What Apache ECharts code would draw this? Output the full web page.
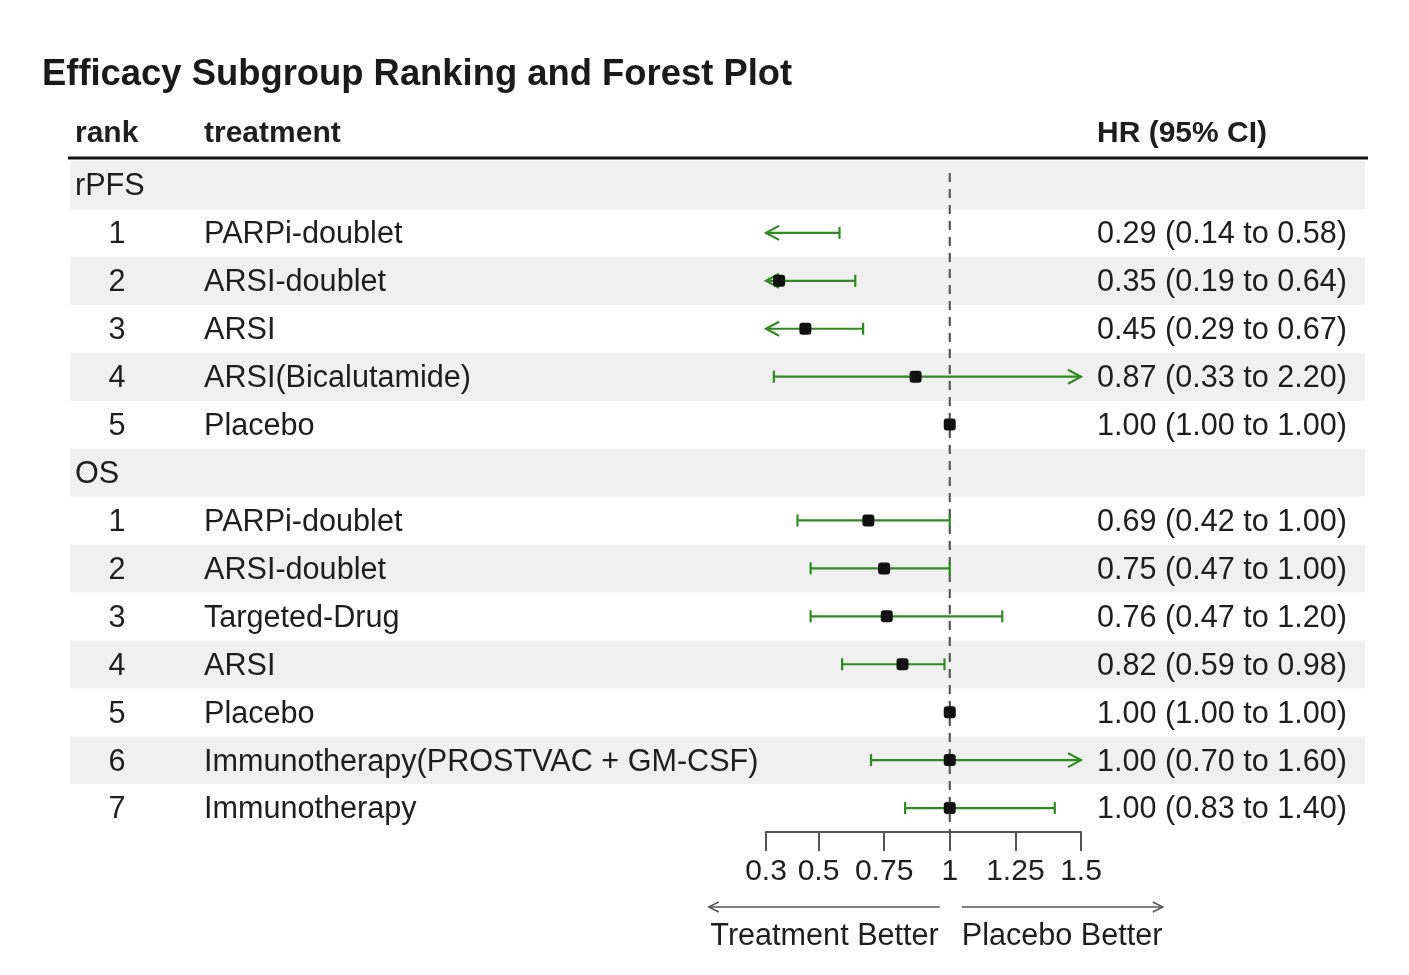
<!DOCTYPE html>
<html><head><meta charset="utf-8">
<script src="https://cdn.jsdelivr.net/npm/echarts@6/dist/echarts.min.js"></script>
<style>html,body{margin:0;padding:0;background:#fff}#c{width:1409px;height:975px}</style>
</head><body><div id="c"></div>
<script>
// ---- data ----
const groupNames = ['rPFS', 'OS'];
const rpfsTreatments = ['PARPi-doublet', 'ARSI-doublet', 'ARSI', 'ARSI(Bicalutamide)', 'Placebo'];
const rpfsHR    = [0.29, 0.35, 0.45, 0.87, 1.00];
const rpfsLower = [0.14, 0.19, 0.29, 0.33, 1.00];
const rpfsUpper = [0.58, 0.64, 0.67, 2.20, 1.00];
const osTreatments = ['PARPi-doublet', 'ARSI-doublet', 'Targeted-Drug', 'ARSI', 'Placebo', 'Immunotherapy(PROSTVAC + GM-CSF)', 'Immunotherapy'];
const osHR    = [0.69, 0.75, 0.76, 0.82, 1.00, 1.00, 1.00];
const osLower = [0.42, 0.47, 0.47, 0.59, 1.00, 0.70, 0.83];
const osUpper = [1.00, 1.00, 1.20, 0.98, 1.00, 1.60, 1.40];
const xTicks = [0.3, 0.5, 0.75, 1, 1.25, 1.5];
const xMin = 0.3, xMax = 1.5, refValue = 1;
const headers = ['rank', 'treatment', 'HR (95% CI)'];
const directionLabels = ['Treatment Better', 'Placebo Better'];
const titleText = 'Efficacy Subgroup Ranking and Forest Plot';

// ---- build rows ----
const rows = [];
function addGroup(name, tr, hr, lo, hi) {
  rows.push({ kind: 'group', name: name });
  tr.forEach((t, i) => rows.push({ kind: 'item', rank: String(i + 1), name: t, hr: hr[i], lo: lo[i], hi: hi[i] }));
}
addGroup(groupNames[0], rpfsTreatments, rpfsHR, rpfsLower, rpfsUpper);
addGroup(groupNames[1], osTreatments, osHR, osLower, osUpper);
const yCats = rows.map((r, i) => String(i));

const FONT = '"Liberation Sans", Arial, Helvetica, sans-serif';
const TXT = '#1e1e1e';
const GREEN = '#2f8a22';

// ---- layout constants ----
const COL_GROUP = 75, COL_RANK = 117, COL_TREAT = 204, COL_HR = 1097;
const STRIPE_L = 70, STRIPE_R = 1365;
const TEXT_DY = 2;

const chart = echarts.init(document.getElementById('c'), null, { renderer: 'canvas' });

const stripeSeries = {
  type: 'custom', z: 1, silent: true,
  data: rows.map((r, i) => [i, xMin]),
  encode: { x: 1, y: 0 },
  renderItem: function (params, api) {
    const i = api.value(0);
    if (i % 2 !== 0) return null;
    const c = api.coord([xMin, i]);
    const h = api.size([0, 1])[1];
    return { type: 'rect', shape: { x: STRIPE_L, y: c[1] - h / 2, width: STRIPE_R - STRIPE_L, height: h }, style: { fill: '#f0f0f0' } };
  }
};

const refLineSeries = {
  type: 'custom', z: 2, silent: true,
  data: [[0, refValue]],
  encode: { x: 1, y: 0 },
  renderItem: function (params, api) {
    const cs = params.coordSys;
    const x = api.coord([refValue, 0])[0];
    return { type: 'line', shape: { x1: x, y1: cs.y + 12, x2: x, y2: cs.y + cs.height }, style: { stroke: '#4a4a4a', lineWidth: 2, lineDash: [9, 7] } };
  }
};

const textSeries = {
  type: 'custom', z: 3, silent: true,
  data: rows.map((r, i) => [i, xMin]),
  encode: { x: 1, y: 0 },
  renderItem: function (params, api) {
    const i = api.value(0);
    const r = rows[i];
    const y = api.coord([xMin, i])[1] + TEXT_DY;
    const font = '30.6px ' + FONT;
    const mk = (text, x, align) => ({ type: 'text', style: { text: text, x: x, y: y, font: font, fill: TXT, align: align, verticalAlign: 'middle' } });
    if (r.kind === 'group') return { type: 'group', children: [mk(r.name, COL_GROUP, 'left')] };
    const hrTxt = r.hr.toFixed(2) + ' (' + r.lo.toFixed(2) + ' to ' + r.hi.toFixed(2) + ')';
    return { type: 'group', children: [mk(r.rank, COL_RANK, 'center'), mk(r.name, COL_TREAT, 'left'), mk(hrTxt, COL_HR, 'left')] };
  }
};

const forestData = [];
rows.forEach((r, i) => { if (r.kind === 'item') forestData.push([i, r.hr, r.lo, r.hi]); });

const forestSeries = {
  type: 'custom', z: 5, silent: true,
  data: forestData,
  encode: { x: 1, y: 0 },
  renderItem: function (params, api) {
    const ri = api.value(0), hr = api.value(1), lo = api.value(2), hi = api.value(3);
    const y = api.coord([refValue, ri])[1];
    const xl = api.coord([Math.max(lo, xMin), ri])[0];
    const xr = api.coord([Math.min(hi, xMax), ri])[0];
    const ch = [];
    const ls = { stroke: GREEN, lineWidth: 2.2, fill: null };
    if (hi > lo) {
      ch.push({ type: 'line', shape: { x1: xl, y1: y, x2: xr, y2: y }, style: ls });
      if (lo < xMin) ch.push({ type: 'polyline', shape: { points: [[xl + 13, y - 7], [xl, y], [xl + 13, y + 7]] }, style: ls });
      else ch.push({ type: 'line', shape: { x1: xl, y1: y - 6, x2: xl, y2: y + 6 }, style: ls });
      if (hi > xMax) ch.push({ type: 'polyline', shape: { points: [[xr - 13, y - 7], [xr, y], [xr - 13, y + 7]] }, style: ls });
      else ch.push({ type: 'line', shape: { x1: xr, y1: y - 6, x2: xr, y2: y + 6 }, style: ls });
    }
    if (hr >= xMin && hr <= xMax) {
      const xc = api.coord([hr, ri])[0];
      ch.push({ type: 'rect', shape: { x: xc - 6, y: y - 6, width: 12, height: 12, r: 3 }, style: { fill: '#111' } });
    }
    return { type: 'group', children: ch };
  }
};

chart.setOption({
  animation: false,
  backgroundColor: '#fff',
  title: {
    text: titleText, left: 37, top: 52,
    textStyle: { fontSize: 36.4, fontWeight: 'bold', color: '#1a1a1a', fontFamily: FONT }
  },
  grid: { left: 766, right: 328, top: 161, bottom: 143, containLabel: false },
  xAxis: {
    type: 'value', min: xMin, max: xMax,
    axisLine: { show: true, lineStyle: { color: '#555', width: 2 } },
    axisTick: { show: true, length: 19, lineStyle: { color: '#555', width: 2 }, customValues: xTicks },
    axisLabel: { customValues: xTicks, formatter: v => String(v), fontSize: 30, color: TXT, margin: 25, fontFamily: FONT },
    splitLine: { show: false }
  },
  yAxis: {
    type: 'category', data: yCats, inverse: true,
    axisLine: { show: false }, axisTick: { show: false }, axisLabel: { show: false }, splitLine: { show: false }
  },
  series: [stripeSeries, refLineSeries, textSeries, forestSeries]
});

const cx = chart.convertToPixel({ xAxisIndex: 0 }, refValue);
const hdrFont = 'bold 30px ' + FONT;
const dirFont = '30.6px ' + FONT;
chart.setOption({
  graphic: [
    { type: 'text', x: COL_GROUP, y: 134, style: { text: headers[0], font: hdrFont, fill: TXT, verticalAlign: 'middle' } },
    { type: 'text', x: COL_TREAT, y: 134, style: { text: headers[1], font: hdrFont, fill: TXT, verticalAlign: 'middle' } },
    { type: 'text', x: COL_HR, y: 134, style: { text: headers[2], font: hdrFont, fill: TXT, verticalAlign: 'middle' } },
    { type: 'line', shape: { x1: 68, y1: 158, x2: 1368, y2: 158 }, style: { stroke: '#111', lineWidth: 3 } },
    { type: 'line', shape: { x1: cx - 10, y1: 907, x2: cx - 241, y2: 907 }, style: { stroke: '#555', lineWidth: 1.5 } },
    { type: 'polyline', shape: { points: [[cx - 231, 902], [cx - 241, 907], [cx - 231, 912]] }, style: { stroke: '#555', lineWidth: 1.5, fill: null } },
    { type: 'line', shape: { x1: cx + 12, y1: 907, x2: cx + 213, y2: 907 }, style: { stroke: '#555', lineWidth: 1.5 } },
    { type: 'polyline', shape: { points: [[cx + 203, 902], [cx + 213, 907], [cx + 203, 912]] }, style: { stroke: '#555', lineWidth: 1.5, fill: null } },
    { type: 'text', x: cx - 11, y: 937, style: { text: directionLabels[0], font: dirFont, fill: TXT, align: 'right', verticalAlign: 'middle' } },
    { type: 'text', x: cx + 12, y: 937, style: { text: directionLabels[1], font: dirFont, fill: TXT, align: 'left', verticalAlign: 'middle' } }
  ]
});
</script>
</body></html>
